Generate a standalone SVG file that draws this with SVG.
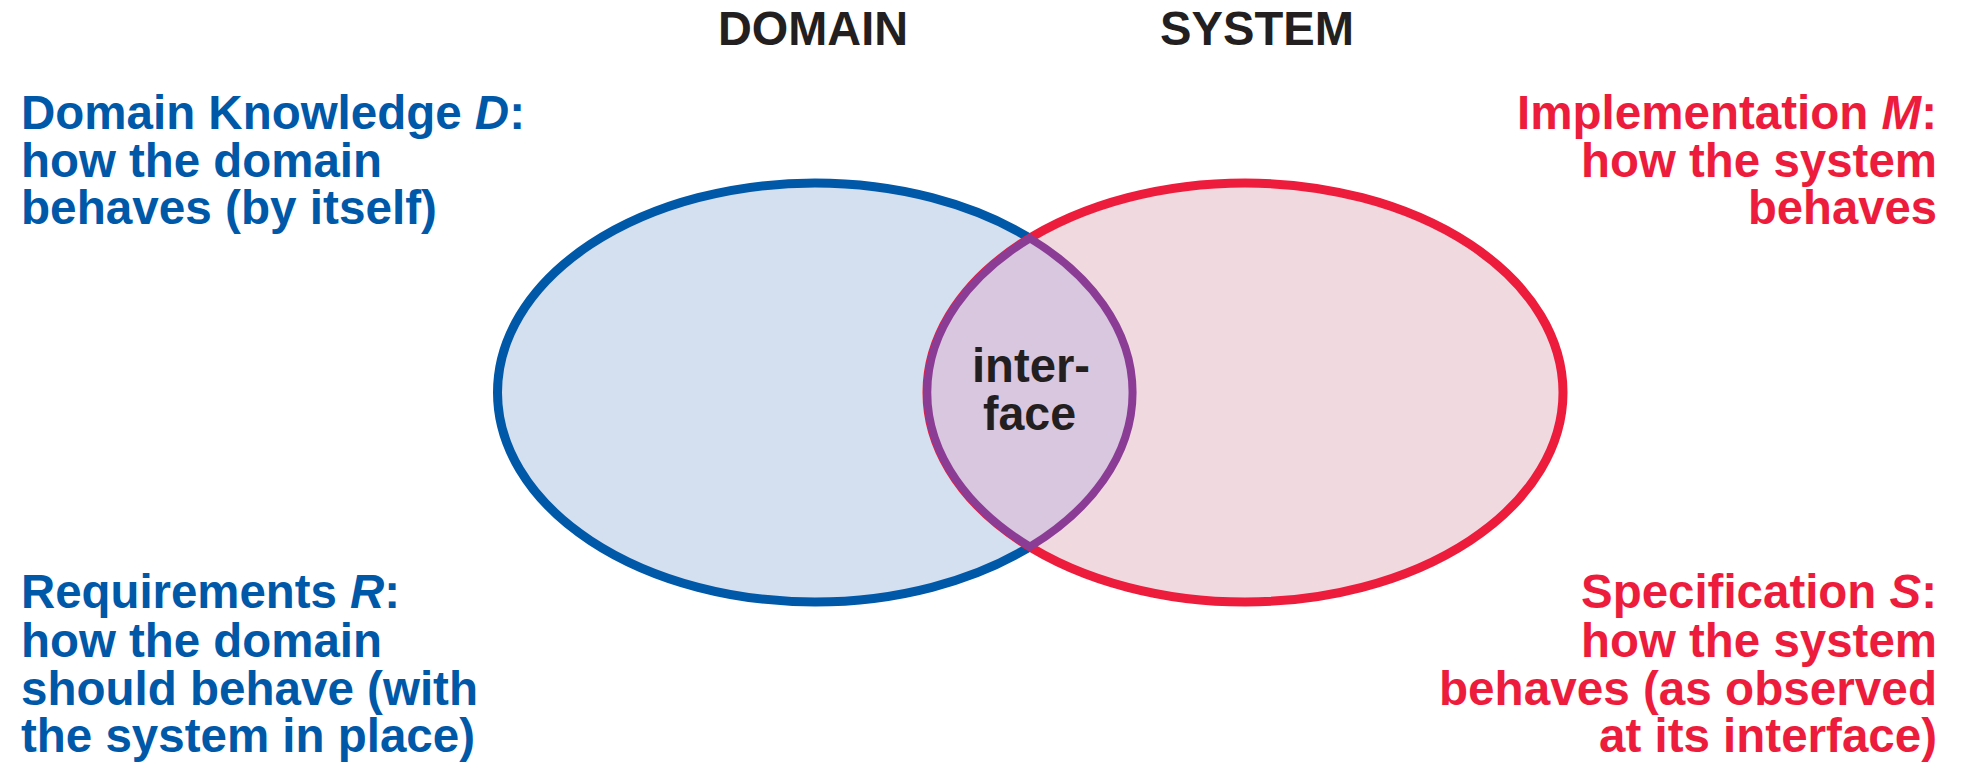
<svg xmlns="http://www.w3.org/2000/svg" width="1963" height="763" viewBox="0 0 1963 763">
  <style>
    text { font-family: "Liberation Sans", Arial, sans-serif; font-weight: bold; font-size: 47.5px; }
    .dark { fill: #231f20; }
    .blue { fill: #0058a8; }
    .red { fill: #ed1c3c; }
    .it { font-style: italic; }
  </style>
  <rect width="1963" height="763" fill="#ffffff"/>

  <!-- column headings -->
  <g id="headings">
    <text class="dark" x="718" y="45" textLength="190" lengthAdjust="spacingAndGlyphs">DOMAIN</text>
    <text class="dark" x="1160" y="45" textLength="194" lengthAdjust="spacingAndGlyphs">SYSTEM</text>
  </g>

  <!-- domain set -->
  <g id="domain">
    <ellipse cx="815" cy="392.5" rx="317.5" ry="209.5" fill="#d4dff0" stroke="#0058a8" stroke-width="9"/>
  </g>

  <!-- system set -->
  <g id="system">
    <ellipse cx="1245" cy="392.5" rx="318" ry="209.5" fill="#f1d9e0" stroke="#ed1c3c" stroke-width="9"/>
  </g>

  <!-- shared phenomena: the overlap of the two sets -->
  <g id="interface">
    <path d="M 1030 238.3 A 318 209.5 0 0 0 1030 546.7 A 317.5 209.5 0 0 0 1030 238.3 Z" fill="#d9c6df" stroke="#8b3d96" stroke-width="8" stroke-linejoin="miter"/>
    <text class="dark" x="972" y="382" textLength="118" lengthAdjust="spacingAndGlyphs">inter-</text>
    <text class="dark" x="983" y="430" textLength="93" lengthAdjust="spacingAndGlyphs">face</text>
  </g>

  <!-- domain knowledge -->
  <g id="label-d">
    <text class="blue" x="21" y="129" textLength="504" lengthAdjust="spacingAndGlyphs">Domain Knowledge <tspan class="it">D</tspan>:</text>
    <text class="blue" x="21" y="177" textLength="361" lengthAdjust="spacingAndGlyphs">how the domain</text>
    <text class="blue" x="21" y="224" textLength="416" lengthAdjust="spacingAndGlyphs">behaves (by itself)</text>
  </g>

  <!-- requirements -->
  <g id="label-r">
    <text class="blue" x="21" y="608" textLength="379" lengthAdjust="spacingAndGlyphs">Requirements <tspan class="it">R</tspan>:</text>
    <text class="blue" x="21" y="657" textLength="361" lengthAdjust="spacingAndGlyphs">how the domain</text>
    <text class="blue" x="21" y="705" textLength="457" lengthAdjust="spacingAndGlyphs">should behave (with</text>
    <text class="blue" x="21" y="752" textLength="454" lengthAdjust="spacingAndGlyphs">the system in place)</text>
  </g>

  <!-- implementation -->
  <g id="label-m">
    <text class="red" x="1517" y="129" textLength="420" lengthAdjust="spacingAndGlyphs">Implementation <tspan class="it">M</tspan>:</text>
    <text class="red" x="1581" y="177" textLength="356" lengthAdjust="spacingAndGlyphs">how the system</text>
    <text class="red" x="1748" y="224" textLength="189" lengthAdjust="spacingAndGlyphs">behaves</text>
  </g>

  <!-- specification -->
  <g id="label-s">
    <text class="red" x="1581" y="608" textLength="356" lengthAdjust="spacingAndGlyphs">Specification <tspan class="it">S</tspan>:</text>
    <text class="red" x="1581" y="657" textLength="356" lengthAdjust="spacingAndGlyphs">how the system</text>
    <text class="red" x="1439" y="705" textLength="498" lengthAdjust="spacingAndGlyphs">behaves (as observed</text>
    <text class="red" x="1599" y="752" textLength="338" lengthAdjust="spacingAndGlyphs">at its interface)</text>
  </g>
</svg>
